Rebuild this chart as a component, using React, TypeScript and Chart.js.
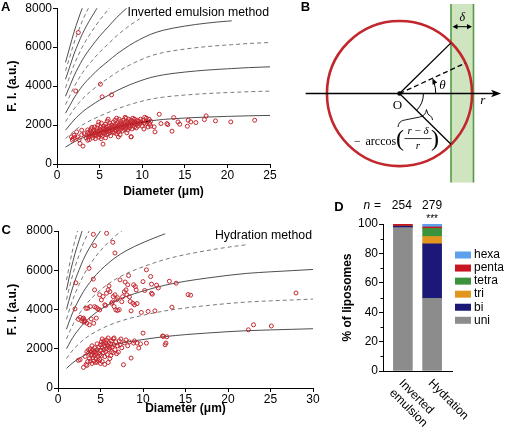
import React, { useEffect, useRef } from 'react';
import { Chart, registerables } from 'chart.js';

Chart.register(...registerables);

const SANS = '"Liberation Sans", Arial, Helvetica, sans-serif';
const SERIF = '"Liberation Serif", "Times New Roman", serif';
Chart.defaults.font.family = SANS;
Chart.defaults.color = '#000';

// ---------------- Panel A : inverted emulsion method ----------------
const diameterTicksA = [0, 5, 10, 15, 20, 25];
const fiTicks = [0, 2000, 4000, 6000, 8000];
const modelDiameterA = [1, 1.5, 2, 2.5, 3, 3.5, 4, 5, 6, 7, 8.5, 9.7, 11, 12.5, 15, 17.5, 20, 20.5, 22.5, 25];
const modelUnitFIA = [870, 1000, 1130, 1240, 1340, 1425, 1500, 1640, 1760, 1880, 2030, 2130, 2220, 2290, 2360, 2410, 2445, 2450, 2475, 2495];
const lamellaeA = [1, 1.5, 2, 2.5, 3, 3.5, 4, 4.5, 5, 5.5, 6];
const modelEndA = [25, 25, 25, 25, 20.5, 9.7, 25, 25, 25, 25, 25];
const fitRangeA = [3.5, 11];
const liposomesA = [
  [1.7,1395],[1.8,1225],[1.9,1310],[2.0,1480],[2.1,1360],[2.2,3750],[2.3,1651],[2.4,1395],[2.5,6750],[2.6,1250],[2.7,1055],[2.9,1736],[2.9,1500],[3.05,919],[3.2,1550],[3.4,1350],[3.6,1225],[5.1,4100],[5.3,3450],[6.4,3550],[5.4,1021],[7.2,1395],[8.7,1395],
  [3.5,1480],[3.6,1620],[3.7,1390],[3.8,1550],[3.9,1700],[4.0,1450],[4.0,1800],[4.1,1600],[4.2,1350],[4.2,1520],[4.3,1750],[4.3,1650],[4.4,1480],[4.4,1900],[4.5,1580],[4.5,1300],[3.8,1250],[4.1,1880],[3.6,1750],
  [4.6,1700],[4.6,1450],[4.7,1850],[4.7,1600],[4.8,1520],[4.8,2000],[4.9,1680],[4.9,1380],[5.0,1780],[5.0,1600],[5.1,1900],[5.1,1500],[5.2,1720],[5.2,2100],[5.3,1640],[5.3,1420],[5.4,1850],[5.4,1580],[5.5,1950],[5.5,1700],[4.9,2150],[5.2,1300],
  [5.6,1600],[5.6,1820],[5.7,1750],[5.7,2050],[5.8,1500],[5.8,1900],[5.9,1680],[5.9,2200],[6.0,1800],[6.0,1550],[6.1,1950],[6.1,1700],[6.2,2100],[6.2,1620],[6.3,1850],[6.3,1450],[6.4,2000],[6.4,1750],[6.5,1900],[6.5,1650],[6.0,2300],[5.7,1350],
  [6.6,1800],[6.6,2150],[6.7,1950],[6.7,1600],[6.8,1850],[6.8,2250],[6.9,1700],[6.9,2050],[7.0,1900],[7.0,1550],[7.1,2100],[7.1,1800],[7.2,2000],[7.2,1650],[7.3,2300],[7.3,1880],[7.4,1750],[7.4,2050],[7.5,1950],[7.5,2200],[7.0,2350],[7.4,1500],
  [7.6,1850],[7.6,2100],[7.7,2000],[7.7,1700],[7.8,2250],[7.8,1900],[7.9,2050],[7.9,1780],[8.0,2150],[8.0,1950],[8.1,2350],[8.1,1850],[8.2,2000],[8.2,2200],[8.3,1750],[8.3,2100],[8.4,1950],[8.4,2300],[8.5,2050],[8.5,1850],[8.0,2400],[8.2,1600],
  [8.6,2150],[8.6,1950],[8.7,2250],[8.8,2050],[8.8,1800],[8.9,2200],[8.9,2350],[9.0,2000],[9.0,2100],[9.1,1900],[9.1,2300],[9.2,2150],[9.3,2050],[9.3,1850],[9.4,2250],[9.5,2100],[9.5,1950],[8.7,1400],
  [9.6,2200],[9.7,2050],[9.8,2300],[9.9,2150],[10.0,1950],[10.1,2250],[10.2,2100],[10.3,2400],[10.4,2050],[10.5,2200],[10.6,2150],[10.7,1900],[10.8,2300],[10.9,2050],[11.0,2200],[10.5,2350],[10.2,1800],[11.0,1950],
  [11.4,1906],[11.5,1651],[12.0,2553],[12.2,2076],[12.9,2076],[13.0,2025],[13.5,1685],[13.7,2383],[14.2,2161],[14.4,2042],[15.3,1940],[15.4,2247],[15.7,2161],[16.3,2127],[17.3,2280],[17.5,2468],[18.6,2213],[20.4,2161],[23.2,2247],
];

// ---------------- Panel C : hydration method ----------------
const diameterTicksC = [0, 5, 10, 15, 20, 25, 30];
const modelDiameterC = [1, 1.5, 2, 2.5, 3, 4, 5, 6, 6.7, 8, 10, 12.6, 15, 17.5, 20, 22.2, 25, 27.5, 30];
const modelUnitFIC = [1000, 1200, 1370, 1510, 1640, 1840, 2000, 2130, 2210, 2330, 2470, 2620, 2720, 2800, 2870, 2920, 2960, 2990, 3020];
const lamellaeC = [1, 1.5, 2, 2.5, 3, 3.5, 4, 4.5, 5, 5.5];
const modelEndC = [30, 30, 30, 22.2, 12.6, 30, 30, 30, 30, 30];
const liposomesC = [
  [2.0,4030],[2.1,5360],[3.3,4060],[3.65,6100],[4.15,5550],[4.16,7831],[4.3,7255],[4.3,5000],[5.72,7882],[6.45,7424],[6.7,6880],
  [2.4,3500],[2.6,3600],[2.8,3420],[2.9,3520],[3.0,3560],[3.06,3360],[3.1,3450],[3.2,3400],[3.4,3300],[3.5,4070],[3.7,3220],[3.8,4150],[3.9,3520],[4.2,3300],[4.5,3560],
  [4.3,4145],[4.5,4100],[4.7,4030],[4.9,3980],[4.9,4750],[5.1,4490],[5.3,4660],[5.5,4240],[5.6,4200],[5.7,4830],[5.9,5000],[6.0,5200],[6.1,4910],[6.3,4320],[6.4,4380],[6.5,4660],[6.6,4150],[6.7,4750],[6.8,3980],[6.9,4500],[7.0,3950],[7.0,4600],[7.2,3990],[7.3,5510],[7.5,4400],[7.6,4650],[7.8,4900],[7.9,5400],[8.0,5000],[8.1,4750],[8.2,5260],[8.3,5730],[8.4,4650],[8.5,4410],[8.6,3930],[8.8,4320],[8.9,5260],[9.0,4240],[9.1,5170],[9.2,5000],[9.3,4300],[9.8,3850],[10.0,5420],[10.2,4970],[10.4,6020],[10.6,3900],[10.9,5680],[11.0,5290],[11.0,4830],[11.1,4780],[11.4,3930],[11.6,5240],[11.8,5100],[13.1,5440],[13.4,4120],[13.9,5340],[15.3,4760],[15.6,4730],[28.0,4840],
  [2.4,1410],[2.6,1440],[3.0,1050],[3.2,1610],[3.3,1200],[3.4,1850],[3.5,1350],[3.6,1780],[3.6,1950],[3.7,1500],[3.8,1360],[3.8,2000],[3.9,1650],[3.9,1850],[4.0,1250],[4.0,1700],[4.1,1550],[4.1,1950],[4.2,1800],[4.2,1380],[4.3,1650],[4.3,2050],[4.4,1300],[4.4,1850],[4.5,1500],[4.5,1750],[4.6,1950],[4.6,1320],[4.7,1600],[4.7,1400],[4.8,1800],[4.8,2100],[4.9,1700],[4.9,1450],[5.0,2200],[5.0,1900],[5.1,1650],[5.1,2350],[5.2,2050],[5.2,1350],[5.3,1800],[5.3,2250],[5.4,2400],[5.4,1950],[5.5,2150],[5.5,1600],[5.6,2300],[5.6,1850],[5.7,2450],[5.7,2000],[5.8,2200],[5.8,1700],[5.9,2100],[5.9,2550],[6.0,1950],[6.0,2300],[6.1,2050],[6.1,1500],[6.2,2250],[6.3,1850],[6.3,2400],[6.4,2100],[6.5,2508],[6.5,1800],[6.6,2200],[6.7,1950],[6.8,2350],[6.9,1750],[7.0,2150],[7.1,1830],[7.2,2400],[7.3,2200],[7.5,2050],[7.7,1187],[7.8,2300],[8.0,2450],[8.2,2150],[8.4,2350],[8.6,1525],[8.9,2288],[9.0,2400],[9.3,2288],[9.5,2034],[9.7,2250],[10.0,2797],[10.4,2288],[12.4,2627],[12.8,2610],[12.6,2203],[12.7,2290],[12.3,2650],[5.5,1200],[5.9,1300],[4.0,2150],[3.4,1150],[6.6,2550],[7.4,2500],[5.2,2500],[5.0,1250],[6.2,1650],[4.6,2250],
  [22.4,2966],[23.0,3220],[25.1,3160],
];

// ---------------- Panel D : lamellarity ----------------
const methodLabels = [['Inverted', 'emulsion'], ['Hydration']];
const methodPos = [0, 1];
const nLiposomes = [254, 279];
const lamellarityClasses = ['uni', 'bi', 'tri', 'tetra', 'penta', 'hexa'];
const uniPct = [97.5, 49.5];
const biPct = [1.0, 37.0];
const triPct = [0, 5.0];
const tetraPct = [0, 5.5];
const pentaPct = [1.5, 1.0];
const hexaPct = [0, 2.0];
const pctTicks = [0, 20, 40, 60, 80, 100];
const pctMinorTicks = [10, 30, 50, 70, 90];
const classColors = ['#8c8c8c', '#1c1878', '#e3961f', '#3a923a', '#c8151f', '#5ea0ea'];

// ---------------- Panel B : geometry (units of circle radius) ----------------
const DIAG_R = 1;
const DIAG_DELTA = 0.29;
const DIAG_THETA_DEG = 25;

const tickFont = { family: SANS, size: 12 };
const titleFont = { family: SANS, size: 12, weight: 'bold' as const };

function curveSets(diam: number[], unit: number[], lam: number[], ends: number[]) {
  return lam.map((k, i) => {
    const solid = Number.isInteger(k);
    return {
      type: 'line',
      data: diam.map((d, j) => ({ x: d, y: k * unit[j] })).filter((p) => p.x <= ends[i] + 1e-9),
      borderColor: solid ? '#3a3a3a' : '#6a6a6a',
      borderWidth: 0.9,
      borderDash: solid ? [] : [4, 3],
      pointRadius: 0,
      fill: false,
      cubicInterpolationMode: 'monotone',
      order: 2,
    };
  });
}

function scatterSet(pts: number[][]) {
  return {
    type: 'scatter',
    data: pts.map(([x, y]) => ({ x, y })),
    pointRadius: 2,
    pointBorderWidth: 1,
    pointBorderColor: '#c4262e',
    pointBackgroundColor: 'rgba(0,0,0,0)',
    borderColor: '#c4262e',
    showLine: false,
    order: 0,
  };
}

function scatterOptions(xTicks: number[], axisH: number, titlePadBottom: number, padTop: number, padRight: number, yWidth: number) {
  const border = { display: true, color: '#000', width: 1 };
  return {
    responsive: false,
    animation: false,
    events: [],
    layout: { padding: { top: padTop, right: padRight, left: 0, bottom: 0 } },
    plugins: { legend: { display: false }, tooltip: { enabled: false } },
    scales: {
      x: {
        type: 'linear',
        min: xTicks[0],
        max: xTicks[xTicks.length - 1],
        afterBuildTicks: (s: any) => { s.ticks = xTicks.map((v) => ({ value: v })); },
        ticks: { color: '#000', font: tickFont, padding: 0, maxRotation: 0, autoSkip: false, callback: (v: any) => String(v) },
        grid: { drawOnChartArea: false, tickLength: 4, tickColor: '#000', tickWidth: 1 },
        border,
        title: { display: true, text: 'Diameter (μm)', color: '#000', font: titleFont, padding: { top: 0, bottom: titlePadBottom } },
        afterFit: (s: any) => { s.height = axisH; },
      },
      y: {
        type: 'linear',
        min: 0,
        max: 8000,
        afterBuildTicks: (s: any) => { s.ticks = fiTicks.map((v) => ({ value: v })); },
        ticks: { color: '#000', font: tickFont, padding: 1, callback: (v: any) => String(v) },
        grid: { drawOnChartArea: false, tickLength: 4, tickColor: '#000', tickWidth: 1 },
        border,
        title: { display: true, text: 'F. I. (a.u.)', color: '#000', font: titleFont, padding: { top: 5.3, bottom: 0 } },
        afterFit: (s: any) => { s.width = yWidth; },
      },
    },
  };
}

function textPlugin(id: string, draw: (chart: any, ctx: CanvasRenderingContext2D) => void) {
  return {
    id,
    afterDraw(chart: any) {
      const ctx = chart.ctx;
      ctx.save();
      draw(chart, ctx);
      ctx.restore();
    },
  };
}

function panelLetter(ctx: CanvasRenderingContext2D, letter: string, x: number, y: number) {
  ctx.font = `bold 13px ${SANS}`;
  ctx.fillStyle = '#000';
  ctx.textAlign = 'left';
  ctx.textBaseline = 'middle';
  ctx.fillText(letter, x, y);
}

function buildA(canvas: HTMLCanvasElement) {
  const fit = {
    type: 'line',
    data: modelDiameterA
      .map((d, j) => ({ x: d, y: lamellaeA[0] * modelUnitFIA[j] }))
      .filter((p) => p.x >= fitRangeA[0] && p.x <= fitRangeA[1]),
    borderColor: '#000',
    borderWidth: 1.8,
    pointRadius: 0,
    fill: false,
    cubicInterpolationMode: 'monotone',
    order: 1,
  };
  return new Chart(canvas, {
    type: 'scatter',
    data: { datasets: [scatterSet(liposomesA), fit, ...curveSets(modelDiameterA, modelUnitFIA, lamellaeA, modelEndA)] as any },
    options: scatterOptions(diameterTicksA, 36, 0.8, 7, 12, 57) as any,
    plugins: [
      textPlugin('textA', (chart, ctx) => {
        panelLetter(ctx, 'A', 1, 7);
        ctx.font = `12.3px ${SANS}`;
        ctx.textAlign = 'right';
        ctx.fillText('Inverted emulsion method', chart.chartArea.right - 1, 12.7);
      }),
    ],
  });
}

function buildC(canvas: HTMLCanvasElement) {
  return new Chart(canvas, {
    type: 'scatter',
    data: { datasets: [scatterSet(liposomesC), ...curveSets(modelDiameterC, modelUnitFIC, lamellaeC, modelEndC)] as any },
    options: scatterOptions(diameterTicksC, 39, 11.5, 16, 17, 58) as any,
    plugins: [
      textPlugin('textC', (chart, ctx) => {
        panelLetter(ctx, 'C', 1.5, 15);
        ctx.font = `12.3px ${SANS}`;
        ctx.textAlign = 'right';
        ctx.fillText('Hydration method', chart.chartArea.right - 1, 20.3);
      }),
    ],
  });
}

function buildD(canvas: HTMLCanvasElement) {
  const series = [uniPct, biPct, triPct, tetraPct, pentaPct, hexaPct];
  const border = { display: true, color: '#000', width: 1 };
  return new Chart(canvas, {
    type: 'bar',
    data: {
      datasets: series.map((vals, i) => ({
        label: lamellarityClasses[i],
        data: methodPos.map((x, j) => ({ x, y: vals[j] })),
        backgroundColor: classColors[i],
        borderWidth: 0,
        barThickness: 19,
      })),
    },
    options: {
      responsive: false,
      animation: false,
      events: [],
      layout: { padding: { top: 34, right: 54, left: 0, bottom: 0 } },
      plugins: { legend: { display: false }, tooltip: { enabled: false } },
      scales: {
        x: {
          type: 'linear',
          min: -0.68,
          max: 1.68,
          offset: false,
          stacked: true,
          ticks: { display: false },
          grid: { display: false },
          border,
          afterFit: (s: any) => { s.height = 56; },
        },
        y: {
          type: 'linear',
          min: 0,
          max: 100,
          stacked: true,
          afterBuildTicks: (s: any) => { s.ticks = pctTicks.map((v) => ({ value: v })); },
          ticks: { color: '#000', font: tickFont, padding: 1, callback: (v: any) => String(v) },
          grid: { drawOnChartArea: false, tickLength: 4, tickColor: '#000', tickWidth: 1 },
          border,
          title: { display: true, text: '% of liposomes', color: '#000', font: titleFont, padding: { top: 10.8, bottom: 0 } },
          afterFit: (s: any) => { s.width = 53; },
        },
      },
    } as any,
    plugins: [
      textPlugin('textD', (chart, ctx) => {
        const { chartArea, scales } = chart;
        const xs = scales.x;
        const ys = scales.y;
        // minor ticks
        ctx.strokeStyle = '#000';
        ctx.lineWidth = 1;
        pctMinorTicks.forEach((v) => {
          const yy = Math.round(ys.getPixelForValue(v)) + 0.5;
          ctx.beginPath();
          ctx.moveTo(chartArea.left - 2.5, yy);
          ctx.lineTo(chartArea.left, yy);
          ctx.stroke();
        });
        // rotated category labels
        ctx.fillStyle = '#000';
        ctx.font = `12px ${SANS}`;
        ctx.textAlign = 'left';
        ctx.textBaseline = 'middle';
        methodLabels.forEach((lines, i) => {
          const tx = xs.getPixelForValue(methodPos[i]);
          ctx.save();
          ctx.translate(tx - 2, chartArea.bottom + 10.5);
          ctx.rotate(Math.PI / 4);
          lines.forEach((ln, j) => ctx.fillText(ln, 0, j * 13.5));
          ctx.restore();
        });
        // n labels
        const b0 = xs.getPixelForValue(methodPos[0]);
        const b1 = xs.getPixelForValue(methodPos[1]);
        ctx.textAlign = 'center';
        ctx.font = `12px ${SANS}`;
        ctx.fillText(String(nLiposomes[0]), b0 - 1, 16);
        ctx.fillText(String(nLiposomes[1]), b1, 16);
        ctx.fillText('=', b0 - 25.5, 16);
        ctx.font = `italic 12px ${SANS}`;
        ctx.fillText('n', b0 - 36, 16);
        ctx.font = `10px ${SANS}`;
        ctx.fillText('***', b1, 29);
        // legend
        ctx.textAlign = 'left';
        ctx.font = `12px ${SANS}`;
        for (let row = 0; row < lamellarityClasses.length; row++) {
          const ci = lamellarityClasses.length - 1 - row;
          const yy = 65 + row * 13.06;
          ctx.fillStyle = classColors[ci];
          ctx.fillRect(125, yy - 3.5, 16, 7);
          ctx.fillStyle = '#000';
          ctx.fillText(lamellarityClasses[ci], 144, yy);
        }
        panelLetter(ctx, 'D', 4.3, 17);
      }),
    ],
  });
}

function buildB(canvas: HTMLCanvasElement) {
  const diagram = {
    id: 'diagramB',
    beforeDatasetsDraw(chart: any) {
      const ctx: CanvasRenderingContext2D = chart.ctx;
      const xs = chart.scales.x;
      const ys = chart.scales.y;
      const px = (v: number) => xs.getPixelForValue(v);
      const py = (v: number) => ys.getPixelForValue(v);
      const ox = px(0);
      const oy = py(0);
      const R = px(DIAG_R) - ox;
      const bandL = px(DIAG_R - DIAG_DELTA);
      const bandR = px(DIAG_R + 0.02);
      const bandTop = py(1.244);
      const bandBot = py(-1.236);
      ctx.save();
      // band
      ctx.fillStyle = '#cfe5bf';
      ctx.fillRect(bandL, bandTop, bandR - bandL, bandBot - bandTop);
      ctx.strokeStyle = '#559a47';
      ctx.lineWidth = 1.6;
      ctx.beginPath();
      ctx.moveTo(bandL, bandTop); ctx.lineTo(bandL, bandBot);
      ctx.moveTo(bandR, bandTop); ctx.lineTo(bandR, bandBot);
      ctx.stroke();
      // circle
      ctx.strokeStyle = '#c1272d';
      ctx.lineWidth = 2.6;
      ctx.beginPath();
      ctx.arc(ox, oy, R, 0, Math.PI * 2);
      ctx.stroke();
      // axis r
      const axL = px(-1.293);
      const axR = px(1.4);
      ctx.strokeStyle = '#000';
      ctx.lineWidth = 1.4;
      ctx.beginPath();
      ctx.moveTo(axL, oy); ctx.lineTo(axR - 6, oy);
      ctx.stroke();
      ctx.fillStyle = '#000';
      ctx.beginPath();
      ctx.moveTo(axR, oy); ctx.lineTo(axR - 10, oy - 3.8); ctx.lineTo(axR - 7.5, oy); ctx.lineTo(axR - 10, oy + 3.8);
      ctx.closePath(); ctx.fill();
      // chords
      const phi = Math.acos((DIAG_R - DIAG_DELTA) / DIAG_R);
      const chX = px(DIAG_R * Math.cos(phi));
      ctx.lineWidth = 1.3;
      ctx.beginPath();
      ctx.moveTo(ox, oy); ctx.lineTo(chX, py(DIAG_R * Math.sin(phi)));
      ctx.moveTo(ox, oy); ctx.lineTo(chX, py(-DIAG_R * Math.sin(phi)));
      ctx.stroke();
      // dashed radius at theta
      const th = (DIAG_THETA_DEG * Math.PI) / 180;
      ctx.setLineDash([5, 3]);
      ctx.beginPath();
      ctx.moveTo(ox, oy); ctx.lineTo(px(DIAG_R * Math.cos(th)), py(DIAG_R * Math.sin(th)));
      ctx.stroke();
      ctx.setLineDash([]);
      // theta arc with arrow
      const ra = px(0.5) - ox;
      ctx.lineWidth = 1;
      ctx.beginPath();
      ctx.arc(ox, oy, ra, 0, -th * 0.75, true);
      ctx.stroke();
      const tx = ox + ra * Math.cos(th);
      const ty = oy - ra * Math.sin(th);
      const dx = -Math.sin(th), dy = -Math.cos(th);
      const nx = Math.cos(th), ny = -Math.sin(th);
      ctx.beginPath();
      ctx.moveTo(tx, ty);
      ctx.lineTo(tx - dx * 6 + nx * 2.6, ty - dy * 6 + ny * 2.6);
      ctx.lineTo(tx - dx * 6 - nx * 2.6, ty - dy * 6 - ny * 2.6);
      ctx.closePath(); ctx.fill();
      // lower arc
      const rl = px(0.33) - ox;
      ctx.beginPath();
      ctx.arc(ox, oy, rl, 0, phi, false);
      ctx.stroke();
      // brace
      ctx.lineWidth = 0.9;
      ctx.beginPath();
      ctx.moveTo(ox - 1.5, oy + 33.5);
      ctx.quadraticCurveTo(ox - 1, oy + 27, ox + 6, oy + 26.3);
      ctx.lineTo(ox + 20, oy + 23.5);
      ctx.quadraticCurveTo(ox + 26, oy + 22.5, ox + 27, oy + 16);
      ctx.quadraticCurveTo(ox + 28, oy + 22, ox + 31, oy + 22.6);
      ctx.quadraticCurveTo(ox + 33, oy + 23.2, ox + 33, oy + 26.5);
      ctx.stroke();
      // delta arrow
      const ay = bandTop + 22.7;
      const aL = bandL + 1.5, aR = bandR - 1.5;
      ctx.lineWidth = 1;
      ctx.beginPath(); ctx.moveTo(aL + 3, ay); ctx.lineTo(aR - 3, ay); ctx.stroke();
      ctx.beginPath();
      ctx.moveTo(aL, ay); ctx.lineTo(aL + 5, ay - 2.6); ctx.lineTo(aL + 5, ay + 2.6); ctx.closePath();
      ctx.moveTo(aR, ay); ctx.lineTo(aR - 5, ay - 2.6); ctx.lineTo(aR - 5, ay + 2.6); ctx.closePath();
      ctx.fill();
      // labels
      ctx.fillStyle = '#000';
      ctx.textBaseline = 'middle';
      ctx.textAlign = 'center';
      ctx.font = `italic 12px ${SERIF}`;
      ctx.fillText('δ', (bandL + bandR) / 2, bandTop + 13.5);
      ctx.font = `13px ${SERIF}`;
      ctx.fillText('O', ox - 2, oy + 11.7);
      ctx.font = `italic 13px ${SERIF}`;
      ctx.fillText('θ', ox + 43, oy - 8.3);
      ctx.fillText('r', ox + 83.3, oy + 6.7);
      // formula  −arccos((r−δ)/r)
      ctx.font = `12px ${SERIF}`;
      ctx.fillText('−', ox - 42, oy + 48.4);
      ctx.textAlign = 'left';
      ctx.fillText('arccos', ox - 34, oy + 48.4);
      ctx.textAlign = 'center';
      ctx.font = `24px ${SERIF}`;
      ctx.fillText('(', ox + 0.5, oy + 45.7);
      ctx.fillText(')', ox + 35.5, oy + 45.7);
      // numerator
      const numY = oy + 38;
      const parts = [
        { t: 'r', f: `italic 11px ${SERIF}` },
        { t: ' − ', f: `11px ${SERIF}` },
        { t: 'δ', f: `italic 11px ${SERIF}` },
      ];
      let total = 0;
      parts.forEach((p) => { ctx.font = p.f; total += ctx.measureText(p.t).width; });
      let cx = ox + 18.5 - total / 2;
      ctx.textAlign = 'left';
      parts.forEach((p) => { ctx.font = p.f; ctx.fillText(p.t, cx, numY); cx += ctx.measureText(p.t).width; });
      ctx.lineWidth = 0.8;
      ctx.beginPath(); ctx.moveTo(ox + 5, oy + 45); ctx.lineTo(ox + 32, oy + 45); ctx.stroke();
      ctx.textAlign = 'center';
      ctx.font = `italic 11px ${SERIF}`;
      ctx.fillText('r', ox + 18.5, oy + 52.4);
      ctx.restore();
    },
    afterDraw(chart: any) {
      const ctx = chart.ctx;
      ctx.save();
      panelLetter(ctx, 'B', 38.7, 7);
      ctx.restore();
    },
  };
  return new Chart(canvas, {
    type: 'scatter',
    data: { datasets: [{ data: [{ x: 0, y: 0 }], pointRadius: 2.2, pointBackgroundColor: '#000', pointBorderWidth: 0 }] },
    options: {
      responsive: false,
      animation: false,
      events: [],
      layout: { padding: 0 },
      plugins: { legend: { display: false }, tooltip: { enabled: false } },
      scales: {
        x: { type: 'linear', display: false, min: -1.84, max: 1.413 },
        y: { type: 'linear', display: false, min: -1.4227, max: 1.244 },
      },
    } as any,
    plugins: [diagram],
  });
}

export default function App() {
  const refA = useRef<HTMLCanvasElement>(null);
  const refB = useRef<HTMLCanvasElement>(null);
  const refC = useRef<HTMLCanvasElement>(null);
  const refD = useRef<HTMLCanvasElement>(null);

  useEffect(() => {
    const charts = [
      buildA(refA.current as HTMLCanvasElement),
      buildB(refB.current as HTMLCanvasElement),
      buildC(refC.current as HTMLCanvasElement),
      buildD(refD.current as HTMLCanvasElement),
    ];
    return () => charts.forEach((c) => c.destroy());
  }, []);

  const abs = (left: number, top: number, w: number, h: number): React.CSSProperties => ({
    position: 'absolute', left, top, width: w, height: h,
  });

  return (
    <div style={{ position: 'fixed', left: 0, top: 0, width: 506, height: 427, background: '#fff', overflow: 'hidden' }}>
      <canvas ref={refA} width={282} height={200} style={abs(0, 0, 282, 200)} />
      <canvas ref={refB} width={244} height={200} style={abs(262, 0, 244, 200)} />
      <canvas ref={refC} width={330} height={212} style={abs(0, 215, 330, 212)} />
      <canvas ref={refD} width={176} height={237} style={abs(330, 190, 176, 237)} />
    </div>
  );
}
